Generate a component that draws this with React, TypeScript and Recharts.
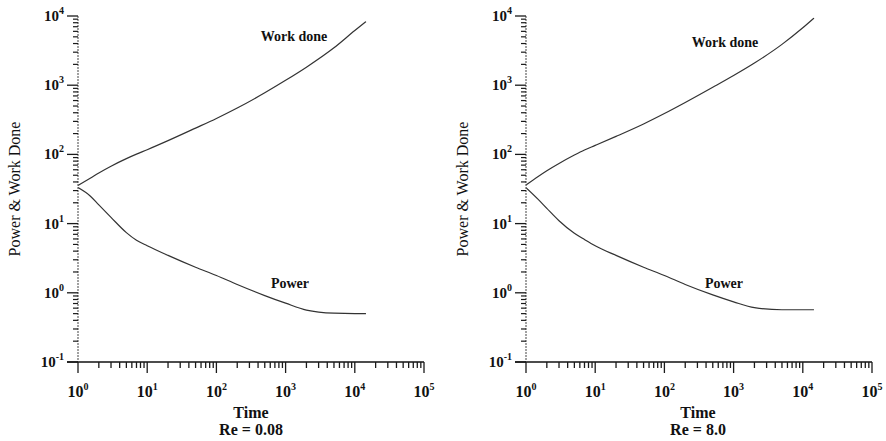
import React from 'react';
import { LineChart, Line, XAxis, YAxis } from 'recharts';

// ---- data (log-log) ----
const time = [1, 1.5, 2, 3, 5, 7, 10, 20, 50, 100, 200, 500, 1000, 2000, 5000, 10000, 14500];
const workDoneA = [35.5, 45.3, 54, 67.6, 87, 101, 117, 158, 240, 331, 468, 776, 1175, 1820, 3470, 6170, 8300];
const powerA = [33.1, 25.1, 18.6, 12.3, 7.41, 5.75, 4.79, 3.47, 2.34, 1.78, 1.32, 0.912, 0.708, 0.562, 0.507, 0.5, 0.5];
const workDoneB = [36, 47.9, 58, 74, 98, 116, 135, 182, 275, 389, 562, 933, 1380, 2090, 3890, 6760, 9330];
const powerB = [33.1, 22.4, 16.6, 11.0, 7.24, 5.89, 4.79, 3.47, 2.34, 1.78, 1.32, 0.933, 0.741, 0.61, 0.569, 0.569, 0.569];

const xMajor = [1, 10, 100, 1000, 10000, 100000];
const xExp = ['0', '1', '2', '3', '4', '5'];
const yMajor = [0.1, 1, 10, 100, 1000, 10000];
const yExp = ['-1', '0', '1', '2', '3', '4'];
const minorMult = [2, 3, 4, 5, 6, 7, 8, 9];

const panelA = { title: 'Re = 0.08', work: workDoneA, power: powerA };
const panelB = { title: 'Re = 8.0', work: workDoneB, power: powerB };

const withMinors = (majors: number[]) => {
  const out: number[] = [];
  majors.forEach((m, i) => {
    out.push(m);
    if (i < majors.length - 1) minorMult.forEach((k) => out.push(m * k));
  });
  return out;
};
const xTicks = withMinors(xMajor);
const yTicks = withMinors(yMajor);

const FONT = "'Liberation Serif', 'Times New Roman', serif";
const INK = '#111';
const TICK = '#1a1a1a';

const XTick = (props: any) => {
  const { x, y, payload } = props;
  const idx = xMajor.indexOf(payload.value);
  if (idx < 0) {
    return <line x1={x} x2={x} y1={y} y2={y + 6} stroke={TICK} strokeWidth={1.3} />;
  }
  return (
    <g>
      <line x1={x} x2={x} y1={y} y2={y + 11} stroke={TICK} strokeWidth={1.3} />
      {idx === 0 && <line x1={x - 11} x2={x} y1={y} y2={y} stroke="#111" strokeWidth={1.6} />}
      <text x={x} y={y + 35} textAnchor="middle" fontFamily={FONT} fontWeight="bold" fontSize={16} fill={INK}>
        10<tspan dy={-7} fontSize={10}>{xExp[idx]}</tspan>
      </text>
    </g>
  );
};

const YTick = (props: any) => {
  const { x, y, payload } = props;
  const idx = yMajor.indexOf(payload.value);
  if (idx < 0) {
    return <line x1={x - 5} x2={x} y1={y} y2={y} stroke={TICK} strokeWidth={1.2} />;
  }
  return (
    <g>
      <line x1={x - 11} x2={x} y1={y} y2={y} stroke={TICK} strokeWidth={1.3} />
      <text x={x - 14} y={y + 5} textAnchor="end" fontFamily={FONT} fontWeight="bold" fontSize={15} fill={INK}>
        10<tspan dy={-7} fontSize={10}>{yExp[idx]}</tspan>
      </text>
    </g>
  );
};

const Panel = ({ panel, left }: { panel: typeof panelA; left: number }) => {
  const data = time.map((t, i) => ({ t, work: panel.work[i], power: panel.power[i] }));
  return (
    <div style={{ position: 'absolute', left: 0, top: 0 }}>
      <LineChart width={443} height={441} data={data} margin={{ top: 16, right: 443 - left - 346, bottom: 19, left: left - 60 }}>
        <XAxis
          dataKey="t"
          type="number"
          scale="log"
          domain={[1, 100000]}
          allowDataOverflow
          ticks={xTicks}
          interval={0}
          tickSize={0}
          tickMargin={0}
          tickLine={false}
          height={60}
          axisLine={{ stroke: '#111', strokeWidth: 1.6 }}
          tick={<XTick />}
        />
        <YAxis
          type="number"
          scale="log"
          domain={[0.1, 10000]}
          allowDataOverflow
          ticks={yTicks}
          interval={0}
          tickSize={0}
          tickMargin={0}
          tickLine={false}
          width={60}
          axisLine={{ stroke: '#555', strokeWidth: 1.1, strokeDasharray: '2 1' }}
          tick={<YTick />}
        />
        <Line dataKey="work" type="monotone" stroke="#333" strokeWidth={1.2} dot={false} isAnimationActive={false} />
        <Line dataKey="power" type="monotone" stroke="#333" strokeWidth={1.2} dot={false} isAnimationActive={false} />
      </LineChart>
    </div>
  );
};

export default function App() {
  const t = { fontFamily: FONT, fill: INK } as const;
  return (
    <div style={{ position: 'fixed', left: 0, top: 0, width: 886, height: 441, background: '#fff', overflow: 'hidden' }}>
      <div style={{ position: 'absolute', left: 0, top: 0, width: 443, height: 441 }}>
        <Panel panel={panelA} left={78} />
      </div>
      <div style={{ position: 'absolute', left: 443, top: 0, width: 443, height: 441 }}>
        <Panel panel={panelB} left={83} />
      </div>
      <svg width={886} height={441} style={{ position: 'absolute', left: 0, top: 0, pointerEvents: 'none' }}>
        <text {...t} x={20} y={189} fontSize={16} textAnchor="middle" transform="rotate(-90 20 189)">Power &amp; Work Done</text>
        <text {...t} x={468} y={189} fontSize={16} textAnchor="middle" transform="rotate(-90 468 189)">Power &amp; Work Done</text>
        <text {...t} x={251} y={418} fontSize={16} fontWeight="bold" textAnchor="middle">Time</text>
        <text {...t} x={251} y={435} fontSize={16} fontWeight="bold" textAnchor="middle">{panelA.title}</text>
        <text {...t} x={698} y={418} fontSize={16} fontWeight="bold" textAnchor="middle">Time</text>
        <text {...t} x={698} y={435} fontSize={16} fontWeight="bold" textAnchor="middle">{panelB.title}</text>
        <text {...t} x={294} y={41} fontSize={14} fontWeight="bold" textAnchor="middle">Work done</text>
        <text {...t} x={725} y={47} fontSize={14} fontWeight="bold" textAnchor="middle">Work done</text>
        <text {...t} x={290} y={288} fontSize={14} fontWeight="bold" textAnchor="middle">Power</text>
        <text {...t} x={724} y={288} fontSize={14} fontWeight="bold" textAnchor="middle">Power</text>
      </svg>
    </div>
  );
}
